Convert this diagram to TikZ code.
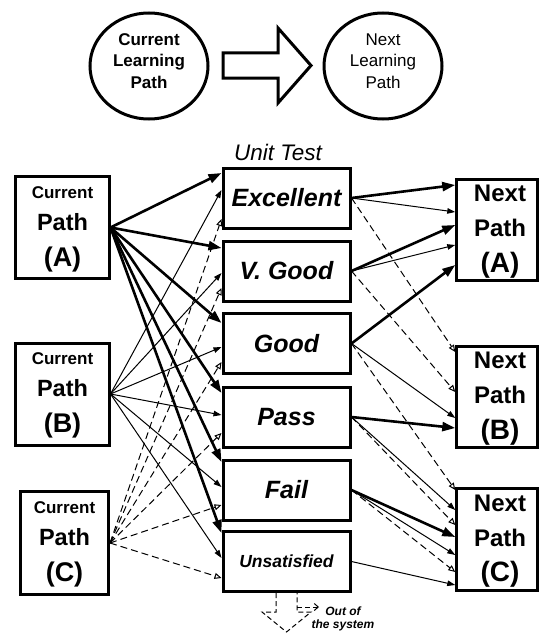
\documentclass[tikz,border=0pt]{standalone}
\usepackage{fontspec}
\setmainfont{Liberation Sans}
\usetikzlibrary{arrows.meta,shapes.geometric}
\newcommand\szf[2]{\fontsize{#1}{#2}\selectfont}
\begin{document}
\begin{tikzpicture}[x=1pt,y=-1pt,
 box/.style={draw,line width=3pt,inner sep=0pt},
 circ/.style={draw,ellipse,line width=3pt,minimum width=118pt,minimum height=106pt,inner sep=0pt},
 grade/.style={box,minimum width=127pt,minimum height=60pt,font=\bfseries\itshape\szf{25}{25}},
 curbox/.style={box,minimum width=93.5pt,minimum height=102pt},
 nextbox/.style={box,minimum width=80.5pt,minimum height=101pt},
 lsmall/.style={anchor=base,inner sep=0pt,font=\bfseries\szf{17}{17}},
 lmid/.style={anchor=base,inner sep=0pt,font=\bfseries\szf{23.5}{23.5}},
 lbig/.style={anchor=base,inner sep=0pt,font=\bfseries\szf{27}{27}},
 thk/.style={line width=2.6pt,-{Triangle[length=13pt,width=9pt]}},
 thn/.style={line width=1pt,-{Triangle[length=8pt,width=5.5pt]}},
 dsh/.style={line width=1pt,dash pattern=on 7pt off 4pt,-{Triangle[open,length=7pt,width=6pt]}},
 odash/.style={line width=1pt,dash pattern=on 5pt off 3pt},
]
\useasboundingbox (0,0) rectangle (539,634);

% top legend
\node[circ] (cur) at (149,66) {};
\node[circ] (nxt) at (383,66) {};
\node[align=center,font=\bfseries\szf{17}{21.5}] (curt) at (149,61) {Current\\Learning\\Path};
\node[align=center,font=\szf{17}{21.5}] (nxtt) at (383,61) {Next\\Learning\\Path};
\draw[line width=3pt,line join=miter,miter limit=20] (223,53) -- (278,53) -- (278,28) -- (311,65.5) -- (278,103) -- (278,78) -- (223,78) -- cycle;

\node[font=\itshape\szf{22.5}{22.5}] (ut) at (278,152) {Unit Test};

% current paths
\node[curbox] (CA) at (62.25,227.5) {};
\node[lsmall] (CA1) at (62.5,198) {Current};
\node[lmid] (CA2) at (62.5,230.5) {Path};
\node[lbig] (CA3) at (62.5,266.5) {(A)};

\node[curbox] (CB) at (62.25,394) {};
\node[lsmall] (CB1) at (62.5,364) {Current};
\node[lmid] (CB2) at (62.5,396.5) {Path};
\node[lbig] (CB3) at (62.5,432.5) {(B)};

\node[box,minimum width=88.5pt,minimum height=103pt] (CC) at (64.25,543) {};
\node[lsmall] (CC1) at (64.5,513) {Current};
\node[lmid] (CC2) at (64.5,545.5) {Path};
\node[lbig] (CC3) at (64.5,581.5) {(C)};

% grades
\node[grade] (E) at (286.5,198) {Excellent};
\node[grade] (V) at (286.5,271) {V. Good};
\node[grade] (G) at (286.5,343.5) {Good};
\node[grade] (P) at (286.5,417) {Pass};
\node[grade] (F) at (286.5,490) {Fail};
\node[grade,font=\bfseries\itshape\szf{17.5}{17.5}] (U) at (286.5,561.5) {Unsatisfied};

% next paths
\node[nextbox] (NA) at (497,230) {};
\node[lmid,font=\bfseries\szf{24}{24}] (NA1) at (500,201.5) {Next};
\node[lmid,font=\bfseries\szf{24}{24}] (NA2) at (500,236.5) {Path};
\node[lbig,font=\bfseries\szf{28}{28}] (NA3) at (500,272.5) {(A)};

\node[nextbox] (NB) at (497,397) {};
\node[lmid,font=\bfseries\szf{24}{24}] (NB1) at (500,368.5) {Next};
\node[lmid,font=\bfseries\szf{24}{24}] (NB2) at (500,403.5) {Path};
\node[lbig,font=\bfseries\szf{28}{28}] (NB3) at (500,439.5) {(B)};

\node[nextbox,minimum height=102pt] (NC) at (497,539.5) {};
\node[lmid,font=\bfseries\szf{24}{24}] (NC1) at (500,511.5) {Next};
\node[lmid,font=\bfseries\szf{24}{24}] (NC2) at (500,546.5) {Path};
\node[lbig,font=\bfseries\szf{28}{28}] (NC3) at (500,581.5) {(C)};

% left connectors: A thick
\draw[thk] (CA.east) -- (E.west |- 0,173);
\draw[thk] (CA.east) -- (V.west |- 0,248);
\draw[thk] (CA.east) -- (G.west |- 0,323);
\draw[thk] (CA.east) -- (P.west |- 0,393);
\draw[thk] (CA.east) -- (F.west |- 0,462);
\draw[thk] (CA.east) -- (U.west |- 0,533);
% B thin
\draw[thn] (CB.east) -- (E.west |- 0,190);
\draw[thn] (CB.east) -- (V.west |- 0,273);
\draw[thn] (CB.east) -- (G.west |- 0,347);
\draw[thn] (CB.east) -- (P.west |- 0,415);
\draw[thn] (CB.east) -- (F.west |- 0,487);
\draw[thn] (CB.east) -- (U.west |- 0,558);
% C dashed
\draw[dsh] (CC.east) -- (E.west |- 0,219);
\draw[dsh] (CC.east) -- (V.west |- 0,288);
\draw[dsh] (CC.east) -- (G.west |- 0,362);
\draw[dsh] (CC.east) -- (P.west |- 0,433);
\draw[dsh] (CC.east) -- (F.west |- 0,505);
\draw[dsh] (CC.east) -- (U.west |- 0,578);

% right connectors
\draw[thk] (E.east) -- (NA.west |- 0,185);
\draw[thn] (E.east) -- (NA.west |- 0,212);
\draw[dsh] (E.east) -- (NB.west |- 0,352);
\draw[thk] (V.east) -- (NA.west |- 0,225);
\draw[thn] (V.east) -- (NA.west |- 0,245);
\draw[dsh] (V.east) -- (NB.west |- 0,392);
\draw[thk] (G.east) -- (NA.west |- 0,265);
\draw[thn] (G.east) -- (NB.west |- 0,418);
\draw[dsh] (G.east) -- (NC.west |- 0,490);
\draw[thk] (P.east) -- (NB.west |- 0,428);
\draw[thn] (P.east) -- (NC.west |- 0,510);
\draw[dsh] (P.east) -- (NC.west |- 0,525);
\draw[thk] (F.east) -- (NC.west |- 0,537);
\draw[thn] (F.east) -- (NC.west |- 0,555);
\draw[dsh] (F.east) -- (NC.west |- 0,572);
\draw[thn] (U.east) -- (NC.west |- 0,585);

% out of the system
\draw[odash] (276,593) -- (276,612) -- (262,612) -- (286.5,632) -- (311,612) -- (297,612) -- (297,593);
\coordinate (osA) at (297,607);
\coordinate (osB) at (319,607);
\draw[odash,-{Straight Barb[length=4pt,width=7pt]}] (osA) -- (osB);
\node[align=center,font=\bfseries\itshape\szf{12}{13}] (out) at (343,619) {Out of\\the system};
\end{tikzpicture}
\end{document}
